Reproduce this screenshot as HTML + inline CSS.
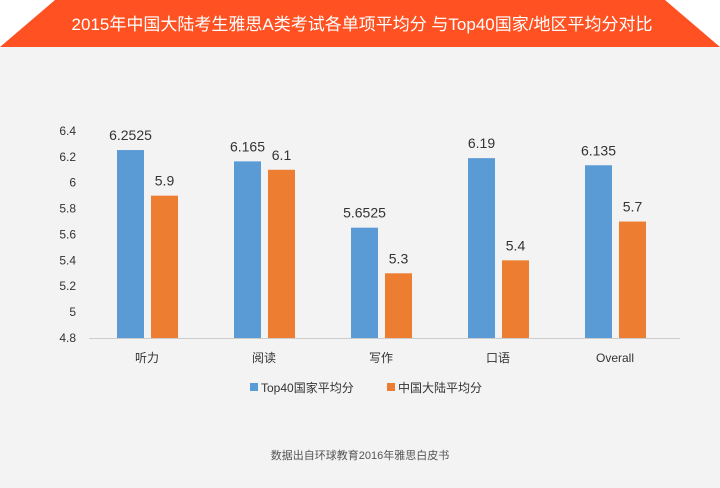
<!DOCTYPE html>
<html><head><meta charset="utf-8"><style>
body{margin:0;width:720px;height:488px;background:#f3f3f3;overflow:hidden;font-family:"Liberation Sans","Noto Sans CJK SC",sans-serif}
</style></head><body>
<svg width="720" height="488" style="display:block">
<rect x="0" y="0" width="720" height="47" fill="#ffffff"/>
<polygon points="55,0 665,0 720,47 0,47" fill="#ff5122"/>
<text x="362" y="30" fill="#fff" font-size="17" text-anchor="middle">2015年中国大陆考生雅思A类考试各单项平均分 与Top40国家/地区平均分对比</text>
<g id="plot"></g>
<text x="360" y="459" fill="#555" font-size="11" text-anchor="middle">数据出自环球教育2016年雅思白皮书</text>
</svg>
<script>
const categories=["听力","阅读","写作","口语","Overall"];
const top40Values=[6.2525,6.165,5.6525,6.19,6.135];
const chinaValues=[5.9,6.1,5.3,5.4,5.7];
const top40Labels=["6.2525","6.165","5.6525","6.19","6.135"];
const chinaLabels=["5.9","6.1","5.3","5.4","5.7"];
const yTicks=[4.8,5,5.2,5.4,5.6,5.8,6,6.2,6.4];
const yTickLabels=["4.8","5","5.2","5.4","5.6","5.8","6","6.2","6.4"];
const NS="http://www.w3.org/2000/svg";
const g=document.getElementById('plot');
const y=v=>338-(v-4.8)*129.4;
const bandX=i=>88.5+i*117;
function mk(t,a,txt){const e=document.createElementNS(NS,t);for(const k in a)e.setAttribute(k,a[k]);if(txt!==undefined)e.textContent=txt;g.appendChild(e);return e;}
yTicks.forEach((v,i)=>{const e=mk('text',{x:76,y:y(v)+4,'font-size':12,fill:'#333','text-anchor':'end'},yTickLabels[i]);

});
const ax=mk('line',{x1:89,x2:680,y1:338.5,y2:338.5,stroke:'#ccc','stroke-width':1});


categories.forEach((c,i)=>{
const bx=bandX(i)+28.5;
const b1=mk('rect',{x:bx,y:y(top40Values[i]),width:27,height:338-y(top40Values[i]),fill:'#5b9bd5'});


const b2=mk('rect',{x:bx+34,y:y(chinaValues[i]),width:27,height:338-y(chinaValues[i]),fill:'#ed7d31'});


const l1=mk('text',{x:bx+13.5,y:y(top40Values[i])-10,'font-size':14,fill:'#333','text-anchor':'middle'},top40Labels[i]);


const l2=mk('text',{x:bx+47.5,y:y(chinaValues[i])-10,'font-size':14,fill:'#333','text-anchor':'middle'},chinaLabels[i]);


const cl=mk('text',{x:bandX(i)+58.5,y:362,'font-size':12,fill:'#333','text-anchor':'middle'},c);


});
const lg=[["#5b9bd5","Top40国家平均分",250],["#ed7d31","中国大陆平均分",387]];
lg.forEach(l=>{const r=mk('rect',{x:l[2],y:383,width:8,height:8,fill:l[0]});


const t=mk('text',{x:l[2]+11,y:392,'font-size':12,fill:'#333'},l[1]);

});
</script>
</body></html>
